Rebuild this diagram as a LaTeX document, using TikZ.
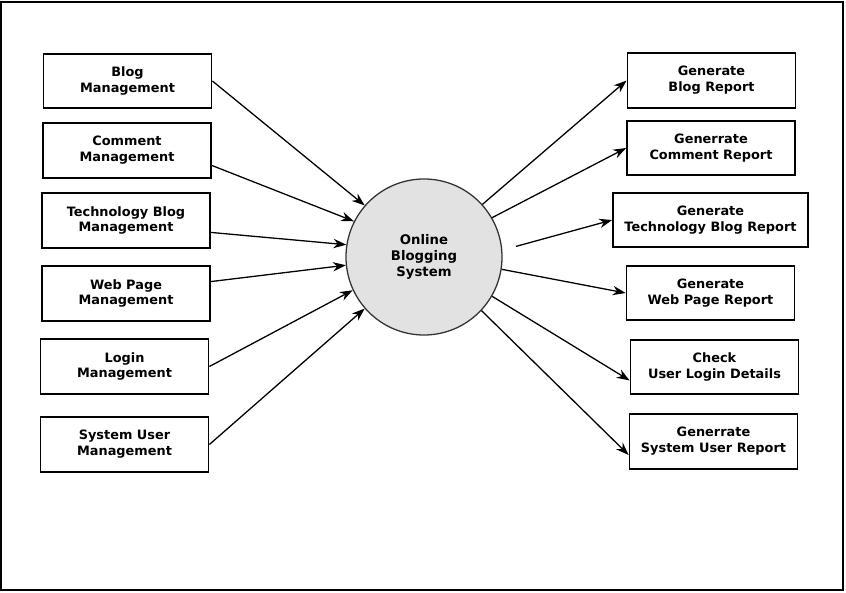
\documentclass[tikz,border=0pt]{standalone}
\usepackage{fontspec}
\setmainfont{DejaVu Sans}
\usetikzlibrary{arrows.meta}
\definecolor{procgray}{HTML}{E2E2E2}

\begin{document}
\begin{tikzpicture}[x=0.03cm, y=-0.03cm,
  box/.style={draw=black, line width=1.5pt, fill=white, minimum width=5.04cm, minimum height=1.64cm,
    inner sep=1pt, align=center, font=\fontsize{11}{13.6}\selectfont\bfseries},
  proc/.style={circle, draw=black!80, line width=1.1pt, fill=procgray, minimum size=4.68cm,
    inner sep=1pt, align=center, font=\fontsize{11.3}{13.8}\selectfont\bfseries},
  flow/.style={-{Stealth[length=11pt, width=8pt]}, line width=1.1pt, black}]
  \useasboundingbox (0,0) rectangle (846,593);
  \draw[line width=1.6pt] (1,2) rectangle (843,590);

  % central process
  \node[proc] (obs) at (424,257) {Online\\Blogging\\System};

  % sources on the left
  \node[box] (blogm) at (127.5,81) {Blog\\Management};
  \node[box] (commm) at (127,150.5) {Comment\\Management};
  \node[box] (techm) at (126,220.5) {Technology Blog\\Management};
  \node[box] (webm) at (126,293.5) {Web Page\\Management};
  \node[box] (logm) at (124.5,366.5) {Login\\Management};
  \node[box] (userm) at (124.5,444.5) {System User\\Management};

  % reports on the right
  \node[box] (blogr) at (711.5,80.5) {Generate\\Blog Report};
  \node[box] (commr) at (711,148) {Generrate\\Comment Report};
  \node[box, minimum width=5.85cm] (techr) at (710.5,220) {Generate\\Technology Blog Report};
  \node[box] (webr) at (710.5,293) {Generate\\Web Page Report};
  \node[box] (logr) at (714.5,367) {Check\\User Login Details};
  \node[box] (userr) at (713.5,441.5) {Generrate\\System User Report};

  % inputs
  \draw[flow] (blogm.east) -- (obs.139);
  \draw[flow] (commm.-10) -- (obs.153);
  \draw[flow] (techm.-8) -- (obs.171);
  \draw[flow] (webm.8) -- (obs.186);
  \draw[flow] (logm.east) -- (obs.205);
  \draw[flow] (userm.east) -- (obs.221);

  % outputs
  \draw[flow] (obs.42) -- (blogr.west);
  \draw[flow] (obs.30) -- (commr.west);
  \draw[flow, shorten <=12pt] (obs.5) -- (techr.west);
  \draw[flow] (obs.-9) -- (webr.west);
  \draw[flow] (obs.-30) -- (logr.189);
  \draw[flow] (obs.-43) -- (userr.189);
\end{tikzpicture}
\end{document}
